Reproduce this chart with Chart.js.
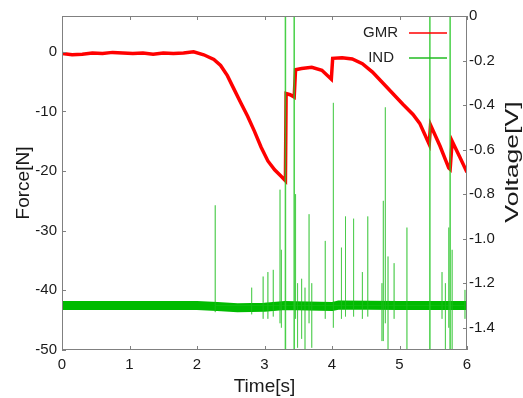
<!DOCTYPE html>
<html>
<head>
<meta charset="utf-8">
<script src="https://cdn.jsdelivr.net/npm/chart.js@4/dist/chart.umd.min.js"></script>
<style>
  html, body { margin: 0; padding: 0; background: #fff; }
  #wrap { width: 523px; height: 398px; }
</style>
</head>
<body>
<div id="wrap"><canvas id="forceChart" width="523" height="398"></canvas></div>
<script>
// axis ticks
const timeTicks = [0, 1, 2, 3, 4, 5, 6];
const forceTicks = [0, -10, -20, -30, -40, -50];
const voltTicks = [0, -0.2, -0.4, -0.6, -0.8, -1.0, -1.2, -1.4];
const voltLabels = ["0", "-0.2", "-0.4", "-0.6", "-0.8", "-1.0", "-1.2", "-1.4"];

// GMR force trace
const gmrTime = [0, 0.15, 0.3, 0.45, 0.6, 0.75, 0.9, 1.05, 1.2, 1.35, 1.5, 1.65, 1.8, 1.95, 2.1, 2.25,
  2.35, 2.45, 2.55, 2.65, 2.75, 2.85, 2.95, 3.05, 3.15, 3.25, 3.31, 3.32, 3.38, 3.44, 3.46, 3.55,
  3.7, 3.85, 3.99, 4.01, 4.15, 4.3, 4.45, 4.6, 4.75, 4.9, 5.05, 5.2, 5.3, 5.44, 5.46, 5.6, 5.73,
  5.75, 5.78, 5.9, 6.0];
const gmrForce = [-0.3, -0.5, -0.4, -0.2, -0.3, -0.1, -0.2, -0.3, -0.2, -0.4, -0.2, -0.3, -0.2, 0.0, -0.5, -1.3,
  -2.3, -4.0, -6.3, -8.6, -10.8, -13.3, -16.0, -18.3, -19.8, -20.9, -21.6, -7.0, -7.2, -7.6, -3.0, -2.8,
  -2.6, -3.1, -4.6, -1.1, -1.0, -1.2, -2.0, -3.4, -5.2, -7.0, -8.8, -10.5, -12.0, -15.5, -12.3, -15.8, -19.5,
  -19.7, -15.0, -17.8, -20.2];

// IND voltage baseline
const indTime = [0, 1, 2, 2.3, 2.6, 3.0, 3.3, 4.0, 4.1, 5.0, 6.0];
const indBase = [-1.30, -1.30, -1.30, -1.305, -1.31, -1.308, -1.30, -1.305, -1.298, -1.30, -1.30];

// IND spikes: time, peak and dip
const spikeTime = [2.27, 2.81, 2.98, 3.05, 3.13, 3.23, 3.25, 3.46, 3.49, 3.55, 3.60, 3.66, 3.70, 3.90, 4.02,
  4.14, 4.20, 4.32, 4.45, 4.53, 4.74, 4.76, 4.79, 4.83, 4.92, 5.11, 5.63, 5.68, 5.73, 5.78, 5.97];
const spikeTop = [-0.85, -1.22, -1.17, -1.15, -1.14, -0.78, -1.05, -0.80, -1.20, -1.18, -1.22, -0.89, -1.20, -1.01, -0.39,
  -1.04, -0.90, -0.91, -1.15, -0.90, -1.20, -0.83, -0.41, -1.08, -1.11, -0.95, -1.15, -1.20, -0.95, -1.05, -1.23];
const spikeBottom = [-1.33, -1.34, -1.36, -1.36, -1.35, -1.38, -1.40, -1.36, -1.49, -1.45, -1.55, -1.38, -1.49, -1.36, -1.40,
  -1.36, -1.35, -1.35, -1.36, -1.35, -1.46, -1.46, -1.38, -1.55, -1.36, -1.55, -1.36, -1.55, -1.40, -1.55, -1.36];

// full height IND pulses
const tallTime = [3.31, 3.44, 5.45, 5.75];
const tallTop = [0.05, 0.05, 0.05, 0.05];
const tallBottom = [-1.55, -1.55, -1.55, -1.55];

const gmrData = gmrTime.map((t, i) => ({ x: t, y: gmrForce[i] }));
const baseData = indTime.map((t, i) => ({ x: t, y: indBase[i] }));
const spikeData = [];
spikeTime.forEach((t, i) => {
  spikeData.push({ x: t, y: -1.30 }, { x: t, y: spikeTop[i] }, { x: t, y: spikeBottom[i] }, { x: t, y: -1.30 });
});
const tallData = [];
tallTime.forEach((t, i) => {
  tallData.push({ x: t, y: tallTop[i] }, { x: t, y: tallBottom[i] }, { x: NaN, y: NaN });
});

const FONT = "'Liberation Sans', Arial, sans-serif";

// frame, inward ticks, legend, right title
const decor = {
  id: "decor",
  afterDatasetsDraw(chart) {
    const { ctx, chartArea: a, scales } = chart;
    ctx.save();
    ctx.strokeStyle = "#808080";
    ctx.lineWidth = 1;
    ctx.strokeRect(a.left + 0.5, a.top + 0.5, a.right - a.left - 1, a.bottom - a.top - 1);
    ctx.beginPath();
    timeTicks.forEach(v => {
      const x = Math.round(scales.x.getPixelForValue(v)) + 0.5;
      ctx.moveTo(x, a.bottom); ctx.lineTo(x, a.bottom - 4);
      ctx.moveTo(x, a.top); ctx.lineTo(x, a.top + 4);
    });
    forceTicks.forEach(v => {
      const y = Math.round(scales.y.getPixelForValue(v)) + 0.5;
      ctx.moveTo(a.left, y); ctx.lineTo(a.left + 4, y);
    });
    voltTicks.forEach(v => {
      const y = Math.round(scales.y1.getPixelForValue(v)) + 0.5;
      ctx.moveTo(a.right, y); ctx.lineTo(a.right - 4, y);
    });
    ctx.stroke();

    // legend
    ctx.font = "15px " + FONT;
    ctx.fillStyle = "#222";
    ctx.textAlign = "right";
    ctx.textBaseline = "middle";
    ctx.fillText("GMR", 398, 33);
    ctx.fillText("IND", 394, 58);
    ctx.lineWidth = 1.5;
    ctx.strokeStyle = "#ff0000";
    ctx.beginPath(); ctx.moveTo(409, 33); ctx.lineTo(447, 33); ctx.stroke();
    ctx.strokeStyle = "#22bb22";
    ctx.beginPath(); ctx.moveTo(409, 58); ctx.lineTo(447, 58); ctx.stroke();

    // right axis title
    ctx.translate(513, 162);
    ctx.rotate(-Math.PI / 2);
    ctx.scale(1.4, 1);
    ctx.font = "19px " + FONT;
    ctx.fillStyle = "#1a1a1a";
    ctx.textAlign = "center";
    ctx.fillText("Voltage[V]", 0, 0);
    ctx.restore();
  }
};

const ctx = document.getElementById("forceChart");
new Chart(ctx, {
  type: "scatter",
  data: {
    datasets: [
      {
        label: "IND pulses",
        data: tallData,
        yAxisID: "y1",
        showLine: true,
        spanGaps: false,
        borderColor: "rgba(40,200,40,0.85)",
        borderWidth: 1.5,
        pointRadius: 0,
        clip: 0,
      },
      {
        label: "IND spikes",
        data: spikeData,
        yAxisID: "y1",
        showLine: true,
        borderColor: "rgba(30,190,30,0.55)",
        borderWidth: 1,
        pointRadius: 0,
        clip: 0,
      },
      {
        label: "GMR",
        data: gmrData,
        yAxisID: "y",
        showLine: true,
        borderColor: "#ff0000",
        borderWidth: 3.5,
        pointRadius: 0,
        clip: 0,
      },
      {
        label: "IND",
        data: baseData,
        yAxisID: "y1",
        showLine: true,
        borderColor: "#00bb00",
        borderWidth: 9,
        pointRadius: 0,
        clip: 0,
      },
    ],
  },
  options: {
    responsive: false,
    animation: false,
    devicePixelRatio: 1,
    layout: { padding: { top: 16, left: 0, right: 0, bottom: 0 } },
    plugins: { legend: { display: false }, tooltip: { enabled: false } },
    scales: {
      x: {
        type: "linear",
        min: 0,
        max: 6,
        afterBuildTicks: s => { s.ticks = timeTicks.map(v => ({ value: v })); },
        afterFit: s => { s.height = 48; },
        grid: { display: false, drawTicks: false },
        border: { display: false },
        ticks: { padding: 6, color: "#1a1a1a", font: { family: FONT, size: 15 } },
        title: { display: true, text: "Time[s]", color: "#1a1a1a", padding: 0, font: { family: FONT, size: 19 } },
      },
      y: {
        position: "left",
        min: -50,
        max: 6,
        afterBuildTicks: s => { s.ticks = forceTicks.map(v => ({ value: v })); },
        afterFit: s => { s.width = 62; },
        grid: { display: false, drawTicks: false },
        border: { display: false },
        ticks: { padding: 5, color: "#1a1a1a", font: { family: FONT, size: 15 } },
        title: { display: true, text: "Force[N]", color: "#1a1a1a", padding: { top: 12, bottom: 0 }, font: { family: FONT, size: 19 } },
      },
      y1: {
        position: "right",
        min: -1.5,
        max: 0,
        afterBuildTicks: s => { s.ticks = voltTicks.map(v => ({ value: v })); },
        afterFit: s => { s.width = 56; },
        grid: { display: false, drawTicks: false },
        border: { display: false },
        ticks: {
          padding: 2,
          color: "#1a1a1a",
          font: { family: FONT, size: 15 },
          callback: (v, i) => voltLabels[i],
        },
      },
    },
  },
  plugins: [decor],
});
</script>
</body>
</html>
